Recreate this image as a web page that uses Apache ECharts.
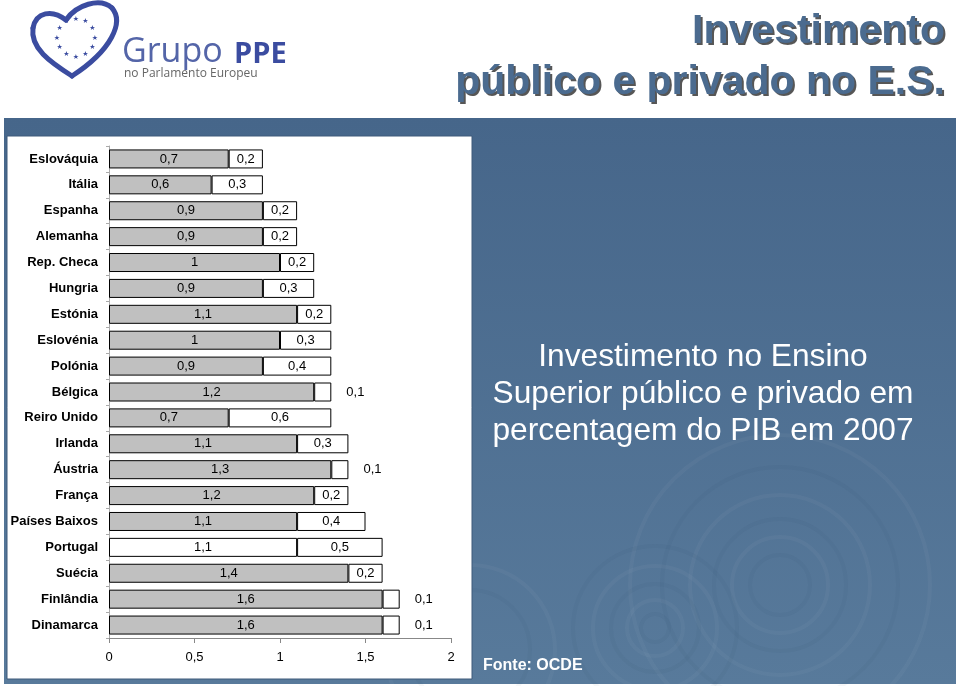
<!DOCTYPE html>
<html>
<head>
<meta charset="utf-8">
<script src="https://cdn.jsdelivr.net/npm/echarts@6/dist/echarts.min.js"></script>
<style>
html,body{margin:0;padding:0;background:#fff;}
#c{width:960px;height:686px;}
</style>
</head>
<body>
<div id="c"></div>
<script>
// ---- data ----
const categories = ['Eslováquia','Itália','Espanha','Alemanha','Rep. Checa','Hungria','Estónia','Eslovénia','Polónia','Bélgica','Reiro Unido','Irlanda','Áustria','França','Países Baixos','Portugal','Suécia','Finlândia','Dinamarca'];
const publicValues  = [0.7,0.6,0.9,0.9,1.0,0.9,1.1,1.0,0.9,1.2,0.7,1.1,1.3,1.2,1.1,1.1,1.4,1.6,1.6];
const privateValues = [0.2,0.3,0.2,0.2,0.2,0.3,0.2,0.3,0.4,0.1,0.6,0.3,0.1,0.2,0.4,0.5,0.2,0.1,0.1];
const xTickLabels = ['0','0,5','1','1,5','2'];
const titleLines = ['Investimento','público e privado no E.S.'];
const subtitleLines = ['Investimento no Ensino','Superior público e privado em','percentagem do PIB em 2007'];
const sourceText = 'Fonte: OCDE';

const fmt = v => String(v).replace('.', ',');
const FONT = 'Liberation Sans, Arial, sans-serif';

const publicData = publicValues.map((v, i) => {
  const item = { value: v };
  if (categories[i] === 'Portugal') item.itemStyle = { color: '#ffffff' };
  return item;
});
const privateData = privateValues.map(v => {
  const item = { value: v };
  if (v < 0.15) item.label = { position: 'right', distance: 15 };
  return item;
});

// decorative elements
const graphics = [];
graphics.push({ type: 'rect', z: -5, shape: { x: 4, y: 118, width: 952, height: 566 },
  style: { fill: { type: 'linear', x: 0, y: 0, x2: 0, y2: 1, colorStops: [{offset:0,color:'#46668a'},{offset:1,color:'#587a9b'}] } } });
// ripples
[[780,585,[30,48,66,90,118,150]],[655,628,[14,28,44,62,82]],[470,650,[60,85]]].forEach(([cx,cy,rs]) => {
  rs.forEach((r, k) => {
    graphics.push({ type: 'circle', z: -4, shape: { cx, cy, r },
      style: { fill: 'none', stroke: k % 2 ? 'rgba(255,255,255,0.035)' : 'rgba(20,40,70,0.04)', lineWidth: 4 } });
  });
});
graphics.push({ type: 'rect', z: -3, shape: { x: 7, y: 136, width: 465, height: 543 },
  style: { fill: '#ffffff', stroke: '#3e5a7a', lineWidth: 1 } });
// title with shadow
titleLines.forEach((t, i) => {
  const y = 52 + i * 51;
  graphics.push({ type: 'text', z: 5, x: 947, y: y + 2,
    style: { text: t, font: 'bold 41px ' + FONT, fill: 'rgba(30,30,30,0.75)', align: 'right', verticalAlign: 'bottom' } });
  graphics.push({ type: 'text', z: 6, x: 945, y: y,
    style: { text: t, font: 'bold 41px ' + FONT, fill: '#4b6b8f', align: 'right', verticalAlign: 'bottom' } });
});
// subtitle
subtitleLines.forEach((t, i) => {
  graphics.push({ type: 'text', z: 5, x: 703, y: 357 + i * 37,
    style: { text: t, font: '31.7px ' + FONT, fill: '#ffffff', align: 'center', verticalAlign: 'middle' } });
});
graphics.push({ type: 'text', z: 5, x: 483, y: 666,
  style: { text: sourceText, font: 'bold 16px ' + FONT, fill: '#ffffff', align: 'left', verticalAlign: 'middle' } });
// logo heart
[[72,76,50,62,30,48,33,28],[33,28,36,12,52,9,66,20],[66,20,76,5,100,-3,112,8],[112,8,124,22,112,50,72,76]].forEach(s => {
  graphics.push({ type: 'bezierCurve', z: 5,
    shape: { x1: s[0], y1: s[1], cpx1: s[2], cpy1: s[3], cpx2: s[4], cpy2: s[5], x2: s[6], y2: s[7] },
    style: { fill: 'none', stroke: '#3b4ca0', lineWidth: 5, lineCap: 'round' } });
});
for (let k = 0; k < 12; k++) {
  const a = k / 12 * Math.PI * 2;
  graphics.push({ type: 'text', z: 5, x: 76 + 19 * Math.cos(a), y: 38 + 19 * Math.sin(a),
    style: { text: '★', font: '7px DejaVu Sans', fill: '#3b4ca0', align: 'center', verticalAlign: 'middle' } });
}
graphics.push({ type: 'text', z: 5, x: 122, y: 69,
  style: { text: 'Grupo', font: '34px Open Sans', fill: '#5465a8', align: 'left', verticalAlign: 'bottom' } });
graphics.push({ type: 'text', z: 5, x: 234, y: 69,
  style: { text: 'PPE', font: 'bold 29px Open Sans', fill: '#3b4ca0', align: 'left', verticalAlign: 'bottom' } });
graphics.push({ type: 'text', z: 5, x: 124, y: 74,
  style: { text: 'no Parlamento Europeu', font: '12px Open Sans', fill: '#666', align: 'left', verticalAlign: 'middle' } });

const chart = echarts.init(document.getElementById('c'), null, { renderer: 'canvas' });
chart.setOption({
  animation: false,
  textStyle: { fontFamily: FONT },
  graphic: { elements: graphics },
  grid: { left: 109, right: 509, top: 146, bottom: 48, containLabel: false },
  xAxis: {
    type: 'value', min: 0, max: 2, interval: 0.5,
    axisLine: { show: true, lineStyle: { color: '#888', width: 1 } },
    axisTick: { show: true, length: 5, lineStyle: { color: '#888' } },
    splitLine: { show: false },
    axisLabel: { color: '#000', fontSize: 13, margin: 13,
      formatter: v => xTickLabels[Math.round(v / 0.5)] }
  },
  yAxis: {
    type: 'category', data: categories, inverse: true,
    axisLine: { show: true, lineStyle: { color: '#aaa' } },
    axisTick: { show: true, length: 3, lineStyle: { color: '#aaa' } },
    axisLabel: { color: '#000', fontSize: 13, fontWeight: 'bold', margin: 11 }
  },
  series: [
    { name: 'Público', type: 'bar', stack: 'total', barWidth: 19, data: publicData,
      itemStyle: { color: '#c0c0c0', borderColor: '#000', borderWidth: 1 },
      label: { show: true, position: 'inside', color: '#000', fontSize: 13, formatter: p => fmt(p.value) } },
    { name: 'Privado', type: 'bar', stack: 'total', barWidth: 19, data: privateData,
      itemStyle: { color: '#ffffff', borderColor: '#000', borderWidth: 1 },
      label: { show: true, position: 'inside', color: '#000', fontSize: 13, formatter: p => fmt(p.value) } }
  ]
});
</script>
</body>
</html>
